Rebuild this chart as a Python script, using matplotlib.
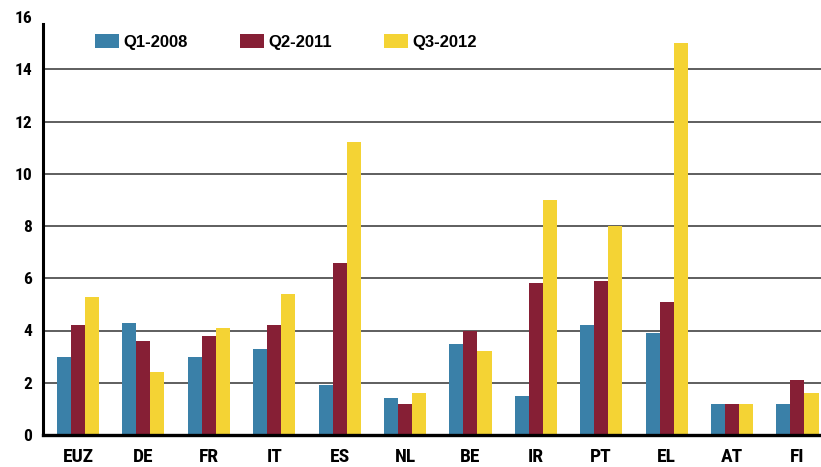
import matplotlib
matplotlib.use("Agg")
import matplotlib.pyplot as plt
import numpy as np

categories = ["EUZ", "DE", "FR", "IT", "ES", "NL", "BE", "IR", "PT", "EL", "AT", "FI"]
series_names = ["Q1-2008", "Q2-2011", "Q3-2012"]
q1_2008 = [3.0, 4.3, 3.0, 3.3, 1.9, 1.4, 3.5, 1.5, 4.2, 3.9, 1.2, 1.2]
q2_2011 = [4.2, 3.6, 3.8, 4.2, 6.6, 1.2, 4.0, 5.8, 5.9, 5.1, 1.2, 2.1]
q3_2012 = [5.3, 2.4, 4.1, 5.4, 11.2, 1.6, 3.2, 9.0, 8.0, 15.0, 1.2, 1.6]
yticks = [0, 2, 4, 6, 8, 10, 12, 14, 16]

colors = ["#3A80A8", "#861F35", "#F4D334"]
cond = ["Roboto Condensed", "DejaVu Sans"]

fig = plt.figure(figsize=(8.21, 4.67), dpi=100)
ax = fig.add_axes([43/821, 32/467, 778/821, 418/467])

x = np.arange(len(categories))
w = 0.215
for k, (vals, c, name) in enumerate(zip([q1_2008, q2_2011, q3_2012], colors, series_names)):
    ax.bar(x + (k - 1) * w, vals, width=w, color=c, label=name, zorder=3, linewidth=0)

ax.set_xlim(-0.535, 11.36)
ax.set_ylim(0, 16)
ax.set_yticks(yticks)
ax.set_yticklabels([str(t) for t in yticks], fontsize=12.5, fontweight="bold", family=cond)
ax.set_xticks(x)
ax.set_xticklabels(categories, fontsize=14, fontweight="bold", family=cond)
ax.tick_params(axis="both", length=0)
ax.tick_params(axis="x", pad=9)
ax.tick_params(axis="y", pad=8)

for t in yticks[1:-1]:
    ax.axhline(t, color="#333333", linewidth=1.1, zorder=1)

for s in ["top", "right"]:
    ax.spines[s].set_visible(False)
ax.spines["left"].set_linewidth(2.2)
ax.spines["left"].set_bounds(0, 15.75)
ax.spines["bottom"].set_linewidth(2.4)
ax.spines["bottom"].set_zorder(4)

leg = fig.legend(*ax.get_legend_handles_labels(), loc="center left",
                 bbox_to_anchor=(95/821, 1 - 42/467), bbox_transform=fig.transFigure,
                 ncol=3, frameon=False, borderpad=0, borderaxespad=0,
                 handlelength=1.45, handleheight=0.95, handletextpad=0.25, columnspacing=3.12,
                 prop={"family": ["Liberation Sans", "DejaVu Sans"], "weight": "bold", "size": 12})

fig.savefig("out.png", dpi=100)
